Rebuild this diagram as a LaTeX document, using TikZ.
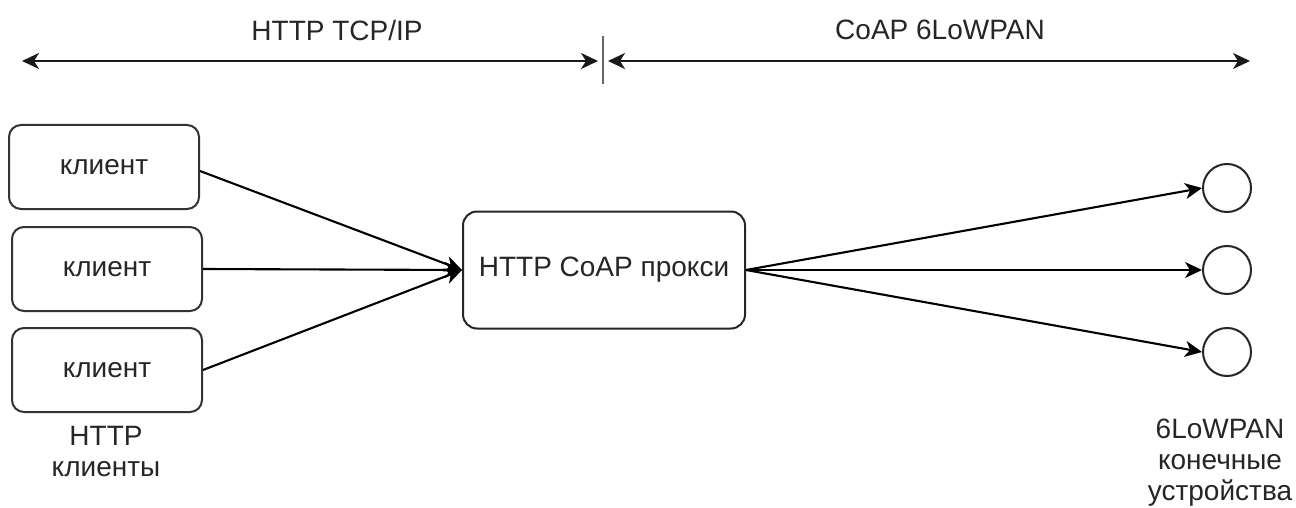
\documentclass[tikz,border=0pt]{standalone}
\usepackage{fontspec}
\setmainfont{Liberation Sans}
\usetikzlibrary{arrows.meta}
\begin{document}
\begin{tikzpicture}[x=1pt,y=-1pt,
  every node/.style={font=\fontsize{28}{31}\selectfont, text=black!85},
  client/.style={draw=black!80, line width=2pt, rounded corners=12pt, minimum width=190pt, minimum height=84pt, inner sep=0pt},
  proxybox/.style={draw=black!85, line width=2pt, rounded corners=14pt, minimum width=282pt, minimum height=117pt, inner sep=0pt},
  dev/.style={draw=black!85, line width=2pt, circle, minimum size=48pt, inner sep=0pt},
  tip/.style={},
  arr/.style={line width=2.1pt, draw=black, -{Stealth[length=17pt,width=16pt,inset=5pt]}},
  darr/.style={line width=2.1pt, draw=black!90, {Stealth[length=17pt,width=16pt,inset=5pt]}-{Stealth[length=17pt,width=16pt,inset=5pt]}},
  lbl/.style={align=center, inner sep=0pt}
]
\useasboundingbox (0,0) rectangle (1296,508);
\fill[white] (0,0) rectangle (1296,508);

% top protocol ranges
\coordinate (l1) at (22,61);
\coordinate (r1) at (598,61);
\coordinate (l2) at (608,61);
\coordinate (r2) at (1250,61);
\coordinate (tt) at (603,36);
\coordinate (tb) at (603,84);
\draw[darr] (l1) -- (r1);
\draw[darr] (l2) -- (r2);
\draw[line width=2pt, black!60] (tt) -- (tb);
\node[lbl] (tcp) at (337,30) {HTTP TCP/IP};
\node[lbl] (coap) at (940,30) {CoAP 6LoWPAN};

% clients
\node[client] (c1) at (104,167) {клиент};
\node[client] (c2) at (107,269) {клиент};
\node[client] (c3) at (107,370) {клиент};
\node[lbl] (hc) at (106,452) {HTTP\\клиенты};

% proxy
\node[proxybox] (px) at (604,270) {HTTP CoAP прокси};

% devices
\node[dev] (d1) at (1227,188) {};
\node[dev] (d2) at (1227,270) {};
\node[dev] (d3) at (1227,352) {};
\node[lbl] (dl) at (1220,463) {6LoWPAN\\конечные\\устройства};

% connectors
\draw[arr] ([yshift=-4pt]c1.east) -- (px.west);
\draw[arr] (c2.east) -- (px.west);
\draw[arr] (c3.east) -- (px.west);
\draw[arr] (px.east) -- (d1.west);
\draw[arr] (px.east) -- (d2.west);
\draw[arr] (px.east) -- (d3.west);
\end{tikzpicture}
\end{document}
